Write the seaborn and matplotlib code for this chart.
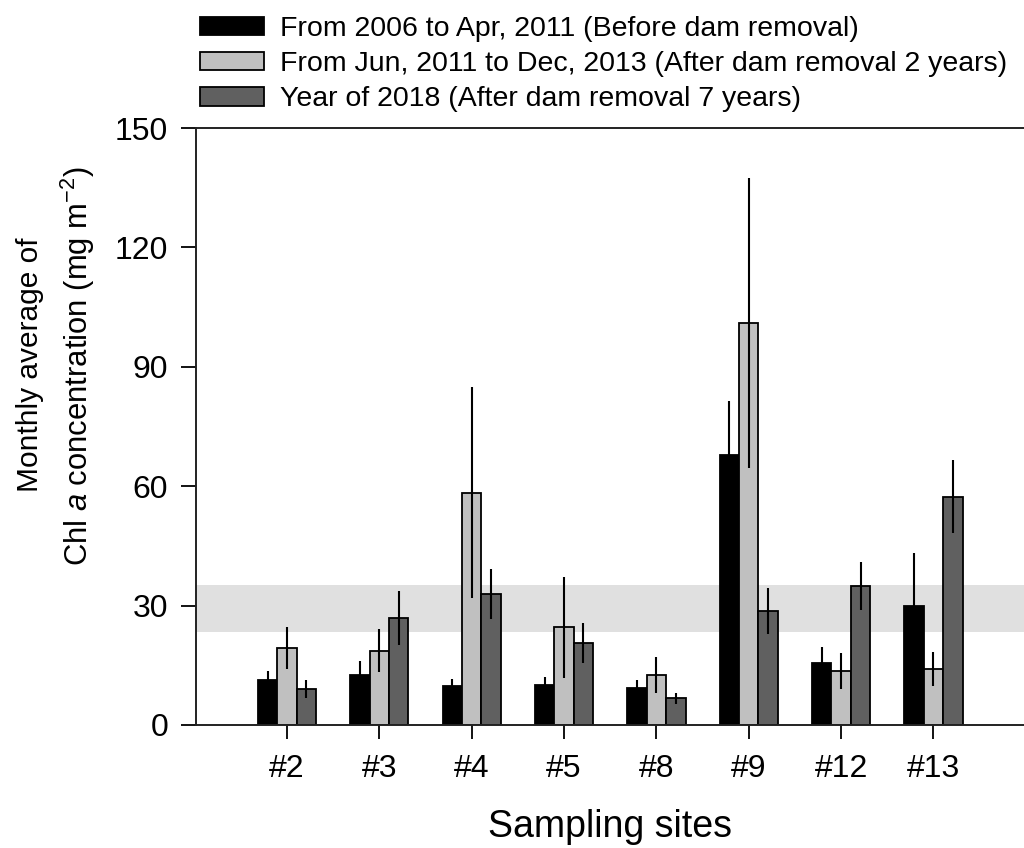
import matplotlib
matplotlib.use("Agg")
import matplotlib.pyplot as plt
import numpy as np
import pandas as pd
import seaborn as sns

# Sampling sites and monthly mean Chl a (mg m^-2) with their error ranges
sites = ["#2", "#3", "#4", "#5", "#8", "#9", "#12", "#13"]
periods = [
    "From 2006 to Apr, 2011 (Before dam removal)",
    "From Jun, 2011 to Dec, 2013 (After dam removal 2 years)",
    "Year of 2018 (After dam removal 7 years)",
]
before = [11.3, 12.6, 9.8, 10.0, 9.2, 67.9, 15.7, 30.0]
before_err = [2.3, 3.4, 1.8, 2.0, 2.1, 13.6, 3.8, 13.1]
after2 = [19.3, 18.7, 58.4, 24.5, 12.6, 101.0, 13.6, 14.0]
after2_err = [5.3, 5.5, 26.6, 12.7, 4.6, 36.4, 4.6, 4.3]
after7 = [9.0, 26.9, 32.9, 20.6, 6.7, 28.7, 34.9, 57.4]
after7_err = [2.2, 6.8, 6.3, 5.0, 1.3, 5.8, 6.1, 9.1]

# Reference range shown as a shaded band
band_low, band_high = 23.4, 35.2

y_ticks = [0, 30, 60, 90, 120, 150]

sns.set_theme(style="ticks")
plt.rcParams["font.family"] = ["Liberation Sans", "DejaVu Sans"]
plt.rcParams["mathtext.fontset"] = "custom"
plt.rcParams["mathtext.rm"] = "Liberation Sans"
plt.rcParams["mathtext.it"] = "Liberation Sans:italic"
plt.rcParams["text.color"] = "black"
plt.rcParams["axes.labelcolor"] = "black"
plt.rcParams["xtick.color"] = "black"
plt.rcParams["ytick.color"] = "black"

means = [before, after2, after7]
errs = [before_err, after2_err, after7_err]
df = pd.DataFrame({
    "site": np.tile(sites, 3),
    "period": np.repeat(periods, len(sites)),
    "value": np.concatenate(means),
})

fig = plt.figure(figsize=(10.24, 8.48), dpi=100)
ax = fig.add_axes([196 / 1024, 1 - 725 / 848, (1024 - 196) / 1024, (725 - 128) / 848])

ax.axhspan(band_low, band_high, color="#e0e0e0", lw=0, zorder=0)

palette = ["#000000", "#c0c0c0", "#606060"]
sns.barplot(data=df, x="site", y="value", hue="period", order=sites,
            hue_order=periods, palette=palette, saturation=1, width=0.63,
            errorbar=None, edgecolor="black", linewidth=1.3, ax=ax,
            zorder=2)

bar_containers = list(ax.containers)
handles = [c.patches[0] for c in bar_containers]

# Error bars drawn at the centre of each bar
for container, err in zip(bar_containers, errs):
    xs = [p.get_x() + p.get_width() / 2 for p in container.patches]
    hs = [p.get_height() for p in container.patches]
    ax.errorbar(xs, hs, yerr=err, fmt="none", ecolor="black",
                elinewidth=1.5, capsize=0, zorder=3)

ax.set_xlim(-0.985, 7.98)
ax.set_ylim(0, 150)
ax.set_yticks(y_ticks)
ax.set_xlabel("Sampling sites", fontsize=27, labelpad=18, color="black")
ax.set_ylabel("")
ax.tick_params(axis="y", direction="out", length=11, width=1.3, pad=9,
               labelsize=23, colors="black")
ax.tick_params(axis="x", direction="out", length=10, width=1.3, pad=11,
               labelsize=23, colors="black")
for side in ["left", "bottom", "top"]:
    ax.spines[side].set_visible(True)
    ax.spines[side].set_linewidth(1.4)
    ax.spines[side].set_color("#222222")
ax.spines["right"].set_visible(False)

ax.get_legend().remove()
fig.legend(handles, periods, loc="upper left",
           bbox_to_anchor=(200 / 1024, 1 - 16 / 848), frameon=False,
           fontsize=20.5, handlelength=2.25, handleheight=0.63,
           handletextpad=0.56, labelspacing=0.32, borderpad=0,
           borderaxespad=0, labelcolor="black")

fig.text(30 / 1024, 1 - 365 / 848, "Monthly average of", rotation=90,
         ha="center", va="center", fontsize=21.5, color="black")
fig.text(78 / 1024, 1 - 366 / 848,
         r"Chl $\mathit{a}$ concentration (mg m$^{-2}$)", rotation=90,
         ha="center", va="center", fontsize=22.3, color="black")

fig.savefig("out.png", dpi=100)
